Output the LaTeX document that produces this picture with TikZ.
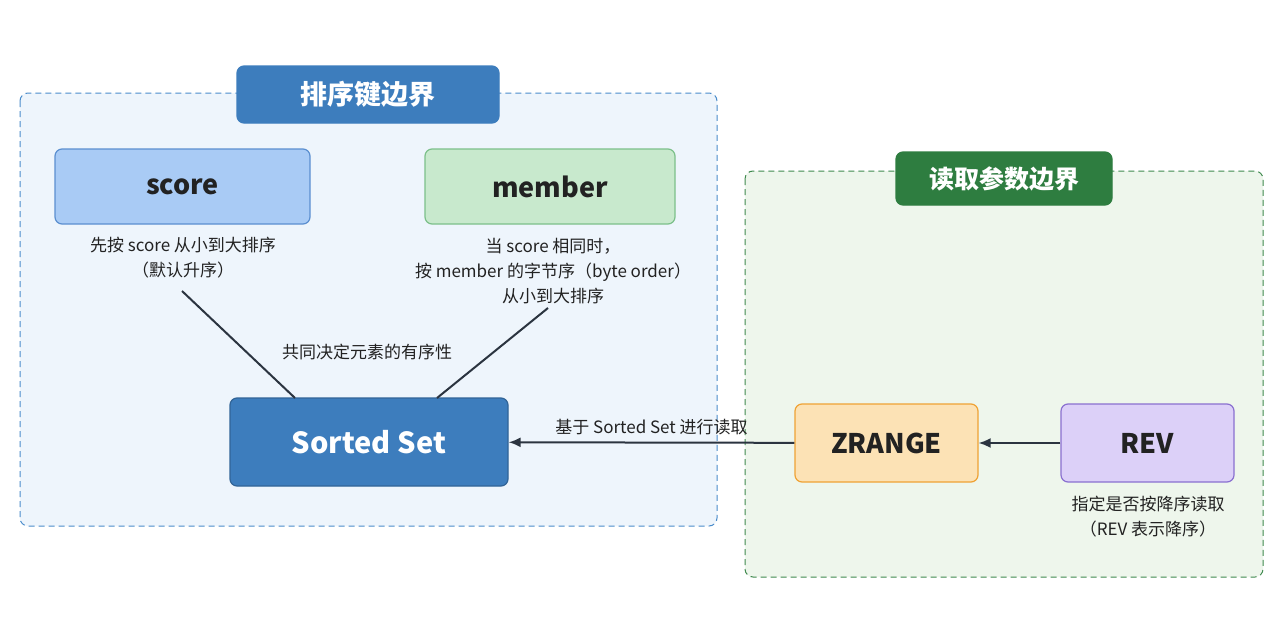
\documentclass[tikz,border=0pt]{standalone}
\usepackage{fontspec}
\setmainfont{Noto Sans CJK SC}
\usetikzlibrary{arrows.meta}
\definecolor{lbfill}{HTML}{EEF5FC}\definecolor{lbdraw}{HTML}{4A8CCB}
\definecolor{gfill}{HTML}{EEF6EC}\definecolor{gdraw}{HTML}{3F8A4E}
\definecolor{tblue}{HTML}{3D7DBD}\definecolor{tgreen}{HTML}{2E7D40}
\definecolor{sfill}{HTML}{A9CBF5}\definecolor{sdraw}{HTML}{5B8FD0}
\definecolor{mfill}{HTML}{C8E9CD}\definecolor{mdraw}{HTML}{7CC08A}
\definecolor{zfill}{HTML}{FCE2B5}\definecolor{zdraw}{HTML}{EFA234}
\definecolor{rfill}{HTML}{DCD0F8}\definecolor{rdraw}{HTML}{8A70D0}
\definecolor{ink}{HTML}{222222}\definecolor{line}{HTML}{2B3440}
\begin{document}
\begin{tikzpicture}[x=1pt,y=-1pt,
 bnd/.style={rounded corners=8pt,line width=1pt,dash pattern=on 6pt off 4pt},
 box/.style={rounded corners=7pt,line width=1.2pt},
 big/.style={font=\fontsize{27}{32}\selectfont\bfseries},
 txt/.style={font=\fontsize{17}{25}\selectfont,text=ink,align=center},
 conn/.style={line,line width=2pt},
 arr/.style={conn,-{Latex[length=12pt,width=10pt]}}]
\useasboundingbox (0,0) rectangle (1280,640);
\fill[white] (0,0) rectangle (1280,640);
\draw[bnd,fill=lbfill,draw=lbdraw] (20,93) rectangle (717,526);
\draw[bnd,fill=gfill,draw=gdraw] (745,171) rectangle (1263,577);
\node[box,fill=tblue,draw=tblue,minimum width=262pt,minimum height=57pt,text=white,big] (t1) at (368,94.5) {排序键边界};
\node[box,fill=tgreen,draw=tgreen,minimum width=216pt,minimum height=53pt,text=white,font=\fontsize{25}{30}\selectfont\bfseries] (t2) at (1004,178.5) {读取参数边界};
\node[box,fill=sfill,draw=sdraw,minimum width=255pt,minimum height=75pt,text=ink,big] (score) at (182.5,186.5) {score};
\node[box,fill=mfill,draw=mdraw,minimum width=250pt,minimum height=75pt,text=ink,big] (member) at (550,186.5) {member};
\node[txt] (sd) at (183,258) {先按 score 从小到大排序\\（默认升序）};
\node[txt] (md) at (553,271) {当 score 相同时，\\按 member 的字节序（byte order）\\从小到大排序};
\node[box,fill=tblue,draw=tblue!80!black,minimum width=278pt,minimum height=88pt,text=white,font=\fontsize{29}{34}\selectfont\bfseries] (ss) at (369,442) {Sorted Set};
\node[box,fill=zfill,draw=zdraw,minimum width=183pt,minimum height=78pt,text=ink,big] (zr) at (886.5,443) {ZRANGE};
\node[box,fill=rfill,draw=rdraw,minimum width=173pt,minimum height=78pt,text=ink,big] (rev) at (1147.5,443) {REV};
\node[txt] (rd) at (1148,517) {指定是否按降序读取\\（REV 表示降序）};
\coordinate (a1) at (182,291); \coordinate (a2) at (548,308);
\coordinate (b1) at (295,398); \coordinate (b2) at (437,398);
\draw[conn] (a1) -- (b1);
\draw[conn] (a2) -- (b2);
\node[txt] (lbl) at (367,352) {共同决定元素的有序性};
\draw[arr] (rev) -- (zr);
\draw[arr] (zr) -- (ss) node[midway,above=3pt,txt] {基于 Sorted Set 进行读取};
\end{tikzpicture}
\end{document}
